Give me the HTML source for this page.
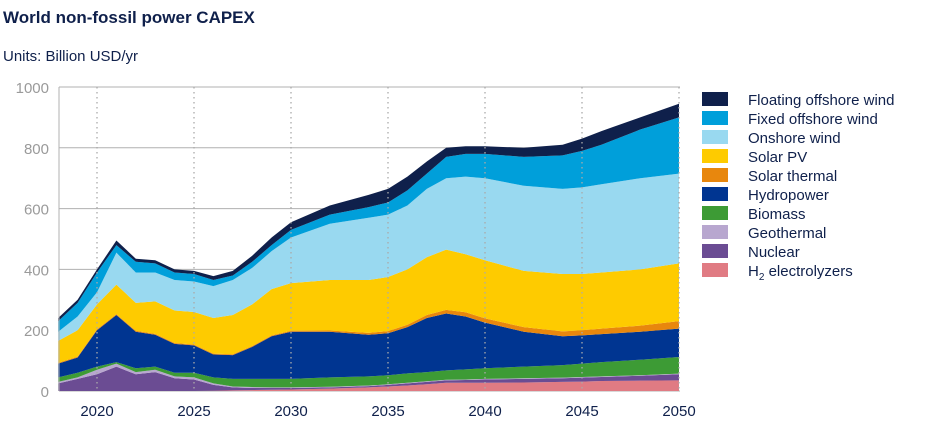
<!DOCTYPE html>
<html><head><meta charset="utf-8"><style>
body{margin:0;background:#fff;font-family:"Liberation Sans",sans-serif;}
</style></head><body>
<svg id="chart" width="937" height="428" xmlns="http://www.w3.org/2000/svg">
<text x="3" y="23" font-size="17" font-weight="bold" fill="#0f204b">World non-fossil power CAPEX</text>
<text x="3" y="61" font-size="15" fill="#0f204b">Units: Billion USD/yr</text>
<g id="grid"></g><g id="areas"></g><g id="vlines"></g><g id="axes"></g><g id="legend"></g>
</svg>
<script>
const years=[2018,2019,2020,2021,2022,2023,2024,2025,2026,2027,2028,2029,2030,2032,2034,2035,2036,2037,2038,2039,2040,2042,2044,2045,2046,2048,2050];
const h2=[0,0,0,0,0,0,0,0,1,2,3,4,5,8,12,15,18,22,27,27,27,28,30,31,33,34,35];
const nuclear=[25,40,55,80,55,62,42,38,19,10,7,6,5,4,4,5,7,8,8,9,11,12,12,13,13,16,20];
const geothermal=[5,5,15,10,7,8,6,7,5,3,3,2,2,2,2,2,2,2,2,2,2,2,2,2,2,2,2];
const biomass=[15,15,10,5,13,10,12,15,20,25,27,28,28,31,30,30,31,30,31,33,35,38,41,44,47,51,55];
const hydro=[45,50,120,155,120,105,95,90,75,78,105,140,155,150,137,138,152,178,187,174,150,115,95,93,92,92,93];
const solarThermal=[3,3,3,3,3,3,3,3,3,3,3,3,3,4,6,7,8,10,12,14,14,15,16,17,18,20,25];
const solarPV=[72,87,82,97,92,107,107,107,117,129,137,152,157,166,174,178,182,190,198,191,191,185,189,185,185,185,190];
const onshore=[30,45,40,105,100,95,100,100,105,115,120,125,150,185,205,205,210,225,235,255,270,280,280,285,290,300,295];
const fixedOff=[35,45,65,25,35,30,25,25,20,15,20,20,25,30,35,40,50,50,70,75,80,95,110,120,130,160,185];
const floatingOff=[10,10,10,15,10,10,10,10,13,15,20,25,25,30,40,45,45,40,30,25,25,30,35,40,45,40,45];
const yTicks=[0,200,400,600,800,1000];
const xTicks=[2020,2025,2030,2035,2040,2045,2050];
const seriesNames=["H2 electrolyzers","Nuclear","Geothermal","Biomass","Hydropower","Solar thermal","Solar PV","Onshore wind","Fixed offshore wind","Floating offshore wind"];
const seriesData=[h2,nuclear,geothermal,biomass,hydro,solarThermal,solarPV,onshore,fixedOff,floatingOff];
const colors=["#e07b83","#6b4c93","#b8a7cf","#3d9b35","#003591","#e8870d","#fecb00","#99d9f0","#009fda","#0f204b"];
const NS="http://www.w3.org/2000/svg";
const X=y=>97+(y-2020)*19.4;
const Y=v=>391-v*0.304;
function mk(t,a,p){const e=document.createElementNS(NS,t);for(const k in a)e.setAttribute(k,a[k]);p.appendChild(e);return e;}
const grid=document.getElementById('grid');
yTicks.forEach(t=>{
  const l=mk('line',{x1:59,x2:680,y1:Y(t),y2:Y(t),stroke:'#b0b0b0','stroke-width':1},grid);
  
  
  const tx=mk('text',{x:49,y:Y(t)+6,'text-anchor':'end','font-size':15,fill:'#9a9a9a'},grid);
  tx.textContent=t;
  
  
});
const areas=document.getElementById('areas');
let base=years.map(()=>0);
seriesData.forEach((s,i)=>{
  const top=base.map((b,j)=>b+s[j]);
  let d='M'+years.map((y,j)=>X(y)+','+Y(top[j])).join(' L');
  for(let j=years.length-1;j>=0;j--)d+=' L'+X(years[j])+','+Y(base[j]);
  const p=mk('path',{d:d+'Z',fill:colors[i]},areas);
  
  
  base=top;
});
const vl=document.getElementById('vlines');
xTicks.forEach(t=>{
  const l=mk('line',{x1:X(t),x2:X(t),y1:Y(1000),y2:Y(0),stroke:'#aaaaaa','stroke-width':1.3,'stroke-dasharray':'1.5,3.5'},vl);
  
  
  const tx=mk('text',{x:X(t),y:416,'text-anchor':'middle','font-size':15,fill:'#0f204b'},vl);
  tx.textContent=t;
  
  
});
const ax=document.getElementById('axes');
const a1=mk('line',{x1:59,x2:59,y1:Y(1000),y2:Y(0),stroke:'#b0b0b0'},ax);


const lg=document.getElementById('legend');
for(let k=0;k<10;k++){
  const i=9-k, yy=92+k*19;
  const r=mk('rect',{x:702,y:yy,width:26,height:14,fill:colors[i]},lg);
  
  
  const tx=mk('text',{x:748,y:yy+13,'font-size':15,fill:'#0f204b'},lg);
  if(i===0){tx.innerHTML='H<tspan font-size="10" dy="4">2</tspan><tspan dy="-4"> electrolyzers</tspan>';}
  else tx.textContent=seriesNames[i];
  
  
}
</script>
</body></html>
